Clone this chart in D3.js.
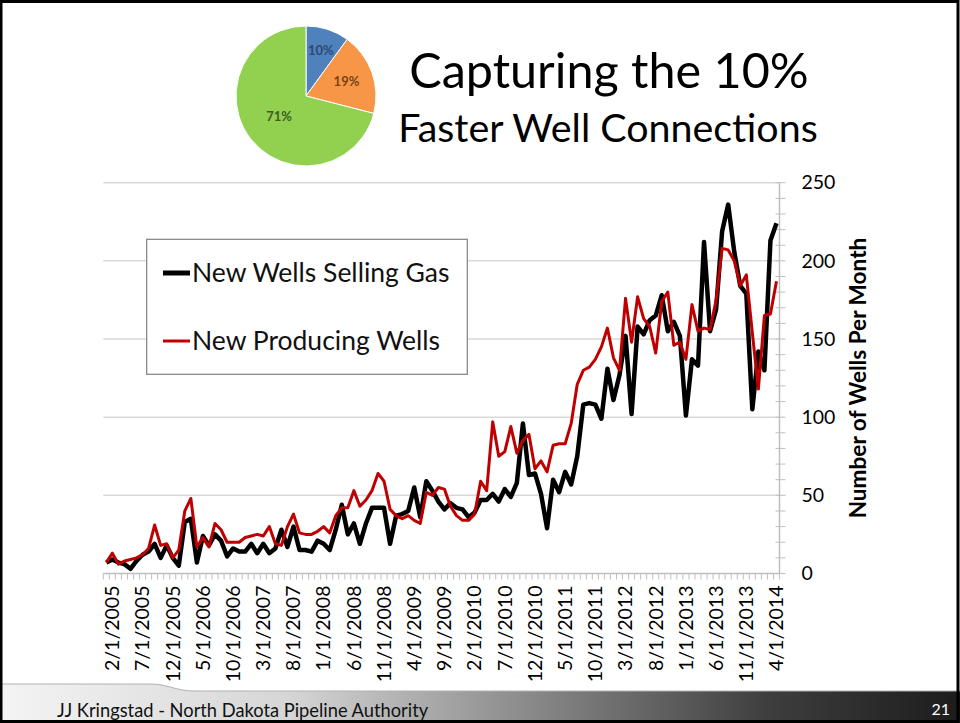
<!DOCTYPE html>
<html>
<head>
<meta charset="utf-8">
<script src="https://cdn.jsdelivr.net/npm/d3@7"></script>
<style>
    html, body { margin: 0; padding: 0; background: #fff; }
    svg { display: block; font-family: Lato, "Open Sans", sans-serif; }
</style>
</head>
<body>
<div id="chart"></div>
<script>
// Monthly categories, 1/1/2005 .. 4/1/2014
var months = d3.timeMonth.range(new Date(2005, 0, 1), new Date(2014, 4, 1));

// Labelled categories on the bottom axis (every 5th month)
var tickLabels = ["2/1/2005", "7/1/2005", "12/1/2005", "5/1/2006", "10/1/2006", "3/1/2007",
    "8/1/2007", "1/1/2008", "6/1/2008", "11/1/2008", "4/1/2009", "9/1/2009", "2/1/2010",
    "7/1/2010", "12/1/2010", "5/1/2011", "10/1/2011", "3/1/2012", "8/1/2012", "1/1/2013",
    "6/1/2013", "11/1/2013", "4/1/2014"];

// New Wells Selling Gas (black)
var sellingGas = [
    7, 9, 7, 6, 3, 8, 12, 14, 19, 10, 18, 10,
    5, 33, 35, 7, 24, 18, 25, 21, 11, 16, 14, 14,
    19, 13, 19, 13, 16, 28, 17, 30, 15, 15, 14, 21,
    19, 15, 28, 44, 25, 32, 19, 32, 42, 42, 42, 19,
    37, 38, 40, 55, 36, 59, 53, 46, 41, 45, 42, 41,
    36, 39, 47, 47, 51, 46, 54, 49, 58, 96, 63, 64,
    51, 29, 60, 52, 65, 57, 75, 108, 109, 108, 99, 131,
    111, 127, 152, 102, 158, 153, 162, 165, 178, 155, 161, 152,
    101, 137, 133, 212, 155, 169, 219, 236, 206, 184, 179, 105,
    142, 130, 213, 224];

// New Producing Wells (red)
var producing = [
    7, 13, 6, 8, 9, 10, 12, 16, 31, 18, 19, 10,
    15, 40, 48, 17, 23, 17, 32, 28, 20, 20, 20, 23,
    24, 25, 24, 30, 19, 18, 30, 38, 26, 25, 25, 27,
    30, 26, 37, 42, 42, 53, 43, 47, 53, 64, 59, 41,
    37, 35, 37, 34, 32, 52, 50, 55, 54, 43, 37, 34,
    34, 38, 59, 53, 97, 75, 78, 94, 77, 85, 89, 67,
    72, 65, 82, 83, 83, 96, 121, 130, 132, 137, 145, 157,
    138, 130, 176, 148, 177, 163, 158, 141, 174, 180, 146, 148,
    137, 172, 155, 157, 156, 175, 208, 207, 200, 184, 191, 154,
    118, 165, 166, 187];

var yTicks = [0, 50, 100, 150, 200, 250];

// Pie in the corner
var pieValues = [10, 19, 71];
var pieLabels = ["10%", "19%", "71%"];
var pieColors = ["#4f81bd", "#f79646", "#92d050"];
var pieTextColors = ["#2c4a73", "#7a4216", "#3b5e1e"];
var pieLabelRadius = [48, 43, 34];

var W = 960, H = 723;
var fmt = function (d) { return (d.getMonth() + 1) + "/1/" + d.getFullYear(); };
var keys = months.map(fmt);

var svg = d3.select("#chart").append("svg")
    .attr("width", W)
    .attr("height", H);

// ---- footer band ----
var defs = svg.append("defs");
var grad = defs.append("linearGradient").attr("id", "footer-grad");
grad.append("stop").attr("offset", "0%").attr("stop-color", "#f4f4f4");
grad.append("stop").attr("offset", "30%").attr("stop-color", "#d6d6d6");
grad.append("stop").attr("offset", "55%").attr("stop-color", "#8a8a8a");
grad.append("stop").attr("offset", "80%").attr("stop-color", "#3e3e3e");
grad.append("stop").attr("offset", "100%").attr("stop-color", "#1c1c1c");

svg.append("path")
    .attr("d", "M0,684 H150 C168,684 176,691 194,691 H960 V723 H0 Z")
    .attr("fill", "url(#footer-grad)");
svg.append("path")
    .attr("d", "M0,684 H150 C168,684 176,691 194,691 H960")
    .attr("fill", "none")
    .attr("stroke", "#b0b0b0")
    .attr("stroke-width", 1);

svg.append("text")
    .attr("x", 57).attr("y", 717)
    .attr("font-size", 18.3)
    .attr("fill", "#111")
    .text("JJ Kringstad - North Dakota Pipeline Authority");
svg.append("text")
    .attr("x", 950).attr("y", 715)
    .attr("text-anchor", "end")
    .attr("font-size", 16)
    .attr("fill", "#fff")
    .text("21");

// ---- titles ----
svg.append("text")
    .attr("x", 609).attr("y", 88)
    .attr("text-anchor", "middle")
    .attr("font-size", 48.5)
    .attr("fill", "#000")
    .text("Capturing the 10%");
svg.append("text")
    .attr("x", 608).attr("y", 142)
    .attr("text-anchor", "middle")
    .attr("font-size", 39.4)
    .attr("fill", "#000")
    .text("Faster Well Connections");

// ---- pie ----
var pieG = svg.append("g").attr("transform", "translate(306,96)");
var arcs = d3.pie().sort(null)(pieValues);
var arc = d3.arc().innerRadius(0).outerRadius(70);

pieG.selectAll("path.slice")
    .data(arcs)
    .enter().append("path")
        .attr("class", "slice")
        .attr("d", arc)
        .attr("fill", function (d, i) { return pieColors[i]; })
        .attr("stroke", "#fff")
        .attr("stroke-width", 1);

pieG.selectAll("text")
    .data(arcs)
    .enter().append("text")
        .attr("transform", function (d, i) {
            var r = pieLabelRadius[i];
            return "translate(" + d3.arc().innerRadius(r).outerRadius(r).centroid(d) + ")";
        })
        .attr("text-anchor", "middle")
        .attr("dy", "0.35em")
        .attr("font-size", 13)
        .attr("font-weight", "bold")
        .attr("fill", function (d, i) { return pieTextColors[i]; })
        .text(function (d, i) { return pieLabels[i]; });

// ---- line chart ----
var x = d3.scaleBand().domain(keys).range([103.3, 779.5]);
var y = d3.scaleLinear().domain([0, 250]).range([573.5, 182.7]);
var cx = function (i) { return x(keys[i]) + x.bandwidth() / 2; };

// horizontal gridlines
svg.append("g")
    .selectAll("line")
    .data(yTicks.slice(1))
    .enter().append("line")
        .attr("x1", 103.3).attr("x2", 779.5)
        .attr("y1", function (d) { return y(d); })
        .attr("y2", function (d) { return y(d); })
        .attr("stroke", "#d9d9d9")
        .attr("stroke-width", 1.5);

// bottom axis line + monthly tick marks
svg.append("line")
    .attr("x1", 103.3).attr("x2", 779.5)
    .attr("y1", y(0)).attr("y2", y(0))
    .attr("stroke", "#bfbfbf").attr("stroke-width", 1.5);
svg.append("g")
    .selectAll("line")
    .data(keys.concat(["end"]))
    .enter().append("line")
        .attr("x1", function (d) { return d === "end" ? x.range()[1] : x(d); })
        .attr("x2", function (d) { return d === "end" ? x.range()[1] : x(d); })
        .attr("y1", y(0)).attr("y2", y(0) + 6)
        .attr("stroke", "#bfbfbf").attr("stroke-width", 1);

// bottom labels, rotated
var xAxis = svg.append("g")
    .attr("transform", "translate(0," + y(0) + ")")
    .call(d3.axisBottom(x).tickValues(tickLabels).tickSize(0));
xAxis.select(".domain").remove();
xAxis.selectAll("text")
    .attr("transform", "rotate(-90)")
    .attr("x", -12)
    .attr("y", 0)
    .attr("dy", "0.35em")
    .attr("text-anchor", "end")
    .attr("font-family", "Lato, sans-serif")
    .attr("font-size", 19.5)
    .attr("fill", "#000");

// right axis line with minor ticks every 10
svg.append("line")
    .attr("x1", 779.5).attr("x2", 779.5)
    .attr("y1", y(0)).attr("y2", y(250))
    .attr("stroke", "#bfbfbf").attr("stroke-width", 1.5);
svg.append("g")
    .selectAll("line")
    .data(d3.range(0, 251, 10))
    .enter().append("line")
        .attr("x1", 775.5).attr("x2", 785.5)
        .attr("y1", function (d) { return y(d); })
        .attr("y2", function (d) { return y(d); })
        .attr("stroke", "#bfbfbf").attr("stroke-width", 1);

var yAxis = svg.append("g")
    .attr("transform", "translate(779.5,0)")
    .call(d3.axisRight(y).tickValues(yTicks).tickSize(0).tickPadding(22));
yAxis.select(".domain").remove();
yAxis.selectAll("text")
    .attr("font-family", "Lato, sans-serif")
    .attr("font-size", 19.5)
    .attr("fill", "#000");

// axis title
svg.append("text")
    .attr("transform", "translate(858,378) rotate(-90)")
    .attr("text-anchor", "middle")
    .attr("dy", "0.35em")
    .attr("font-size", 22.6)
    .attr("font-weight", "bold")
    .attr("fill", "#000")
    .text("Number of Wells Per Month");

// series
var line = d3.line()
    .x(function (d, i) { return cx(i); })
    .y(function (d) { return y(d); });

svg.append("path")
    .datum(sellingGas)
    .attr("d", line)
    .attr("fill", "none")
    .attr("stroke", "#000")
    .attr("stroke-width", 4.5)
    .attr("stroke-linejoin", "round");

svg.append("path")
    .datum(producing)
    .attr("d", line)
    .attr("fill", "none")
    .attr("stroke", "#c00000")
    .attr("stroke-width", 3)
    .attr("stroke-linejoin", "round");

// ---- legend ----
var legend = svg.append("g");
legend.append("rect")
    .attr("x", 146.7).attr("y", 239.3)
    .attr("width", 320.6).attr("height", 135)
    .attr("fill", "#fff")
    .attr("stroke", "#808080")
    .attr("stroke-width", 1.2);

var legendItems = [
    { name: "New Wells Selling Gas", color: "#000", width: 5, y: 273 },
    { name: "New Producing Wells", color: "#c00000", width: 3, y: 341 }
];
legendItems.forEach(function (d) {
    legend.append("line")
        .attr("x1", 163).attr("x2", 190)
        .attr("y1", d.y).attr("y2", d.y)
        .attr("stroke", d.color)
        .attr("stroke-width", d.width);
    legend.append("text")
        .attr("x", 192).attr("y", d.y)
        .attr("dy", "0.35em")
        .attr("font-size", 26.5)
        .attr("fill", "#111")
        .text(d.name);
});

// slide frame
svg.append("rect")
    .attr("x", 1).attr("y", 1.5)
    .attr("width", W - 3).attr("height", H - 3)
    .attr("fill", "none")
    .attr("stroke", "#000")
    .attr("stroke-width", 3);
</script>
</body>
</html>
